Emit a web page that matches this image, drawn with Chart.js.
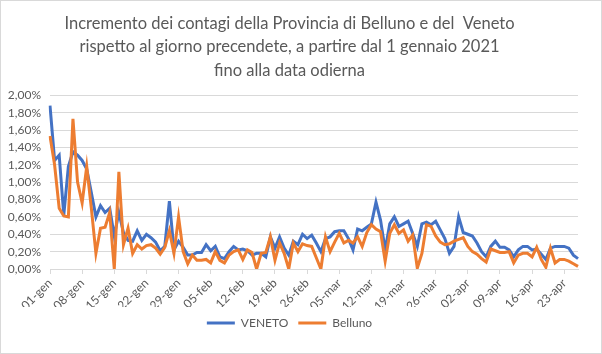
<!DOCTYPE html>
<html>
<head>
<meta charset="utf-8">
<script src="https://cdn.jsdelivr.net/npm/chart.js@4.4.1/dist/chart.umd.min.js"></script>
<style>
  body { margin: 0; background: #fff; }
  #box { position: absolute; left: 0; top: 0; width: 600px; height: 352px; border: 1px solid #d9d9d9; }
</style>
</head>
<body>
<div id="box"><canvas id="grafico" width="600" height="352"></canvas></div>
<script>
// titolo del grafico
const titleLines = [
  "Incremento dei contagi della Provincia di Belluno e del  Veneto",
  "rispetto al giorno precendete, a partire dal 1 gennaio 2021",
  "fino alla data odierna"
];

// mesi per le etichette dei giorni (dal 1 gennaio al 26 aprile 2021)
const monthNames = ["gen", "feb", "mar", "apr"];
const monthDays = [31, 28, 31, 26];

// incremento % giornaliero - Veneto
const veneto = [
  1.88, 1.25, 1.31, 0.62, 1.18, 1.35, 1.31, 1.25, 1.15, 0.88,
  0.60, 0.73, 0.65, 0.70, 0.38, 0.65, 0.42, 0.33, 0.32, 0.44,
  0.33, 0.40, 0.36, 0.31, 0.21, 0.26, 0.78, 0.22, 0.32, 0.25,
  0.16, 0.16, 0.19, 0.19, 0.28, 0.21, 0.26, 0.14, 0.12, 0.20,
  0.26, 0.22, 0.23, 0.21, 0.16, 0.18, 0.18, 0.14, 0.37, 0.24,
  0.37, 0.24, 0.16, 0.32, 0.28, 0.40, 0.35, 0.39, 0.30, 0.20,
  0.35, 0.37, 0.43, 0.44, 0.44, 0.35, 0.22, 0.46, 0.44, 0.48,
  0.52, 0.77, 0.56, 0.22, 0.52, 0.60, 0.49, 0.52, 0.55, 0.41,
  0.26, 0.52, 0.54, 0.51, 0.55, 0.45, 0.35, 0.18, 0.26, 0.60,
  0.42, 0.40, 0.38, 0.30, 0.20, 0.14, 0.26, 0.32, 0.25, 0.25,
  0.22, 0.14, 0.22, 0.26, 0.26, 0.22, 0.23, 0.17, 0.11, 0.24,
  0.26, 0.26, 0.26, 0.24, 0.16, 0.12
];

// incremento % giornaliero - Belluno
const belluno = [
  1.53, 1.20, 0.70, 0.61, 0.60, 1.73, 1.00, 0.76, 1.18, 0.70,
  0.18, 0.47, 0.48, 0.65, 0.00, 1.12, 0.28, 0.47, 0.18, 0.28,
  0.23, 0.27, 0.28, 0.24, 0.17, 0.25, 0.44, 0.18, 0.60, 0.20,
  0.06, 0.16, 0.10, 0.10, 0.11, 0.07, 0.20, 0.10, 0.07, 0.16,
  0.20, 0.22, 0.11, 0.22, 0.19, 0.00, 0.18, 0.19, 0.37, 0.10,
  0.30, 0.18, 0.00, 0.30, 0.20, 0.29, 0.27, 0.26, 0.13, 0.00,
  0.37, 0.20, 0.31, 0.41, 0.30, 0.33, 0.30, 0.37, 0.26, 0.42,
  0.51, 0.46, 0.43, 0.09, 0.41, 0.51, 0.41, 0.45, 0.32, 0.39,
  0.01, 0.18, 0.51, 0.49, 0.38, 0.31, 0.28, 0.29, 0.32, 0.34,
  0.36, 0.26, 0.20, 0.17, 0.12, 0.08, 0.23, 0.21, 0.19, 0.19,
  0.20, 0.07, 0.16, 0.18, 0.18, 0.14, 0.25, 0.11, 0.02, 0.24,
  0.07, 0.11, 0.11, 0.09, 0.06, 0.03
];

// costruisco le etichette "01-gen", "02-gen", ...
const giorni = [];
monthNames.forEach(function (m, i) {
  for (let d = 1; d <= monthDays[i]; d++) {
    giorni.push(String(d).padStart(2, "0") + "-" + m);
  }
});

const grigio = "#595959";
const griglia = "#d9d9d9";

const ctx = document.getElementById("grafico").getContext("2d");
new Chart(ctx, {
  type: "line",
  data: {
    labels: giorni,
    datasets: [
      {
        label: "VENETO",
        data: veneto,
        borderColor: "#4472C4",
        backgroundColor: "#4472C4",
        borderWidth: 3,
        pointRadius: 0,
        tension: 0,
        order: 1
      },
      {
        label: "Belluno",
        data: belluno,
        borderColor: "#ED7D31",
        backgroundColor: "#ED7D31",
        borderWidth: 3,
        pointRadius: 0,
        tension: 0,
        order: 0
      }
    ]
  },
  options: {
    responsive: false,
    animation: false,
    layout: { padding: { left: 0, right: 23, top: 0, bottom: 14 } },
    plugins: {
      title: {
        display: true,
        text: titleLines,
        color: grigio,
        font: { family: "Lato", size: 16.5, weight: "normal", lineHeight: 1.42 },
        padding: { top: 11, bottom: 13 }
      },
      legend: {
        position: "bottom",
        labels: {
          color: grigio,
          font: { family: "Lato", size: 12 },
          usePointStyle: true,
          pointStyle: "line",
          pointStyleWidth: 28,
          padding: 10,
          sort: function (a, b) { return a.datasetIndex - b.datasetIndex; }
        }
      },
      tooltip: { enabled: false }
    },
    scales: {
      x: {
        offset: false,
        ticks: {
          autoSkip: false,
          maxRotation: 45,
          minRotation: 45,
          color: grigio,
          font: { family: "Lato", size: 12 },
          padding: 2,
          callback: function (val, i) {
            return i % 7 === 0 ? this.getLabelForValue(val) : null;
          }
        },
        grid: { drawOnChartArea: false, drawTicks: true, tickLength: 5, color: griglia },
        border: { color: griglia },
        afterFit: function (scale) { scale.height = 38; }
      },
      y: {
        min: 0,
        max: 2,
        ticks: {
          stepSize: 0.2,
          autoSkip: false,
          color: grigio,
          font: { family: "Lato", size: 12 },
          padding: 9,
          callback: function (v) { return v.toFixed(2).replace(".", ",") + "%"; }
        },
        grid: { color: griglia, drawTicks: false },
        border: { display: false },
        afterFit: function (scale) { scale.width = 49; }
      }
    }
  }
});
</script>
</body>
</html>
